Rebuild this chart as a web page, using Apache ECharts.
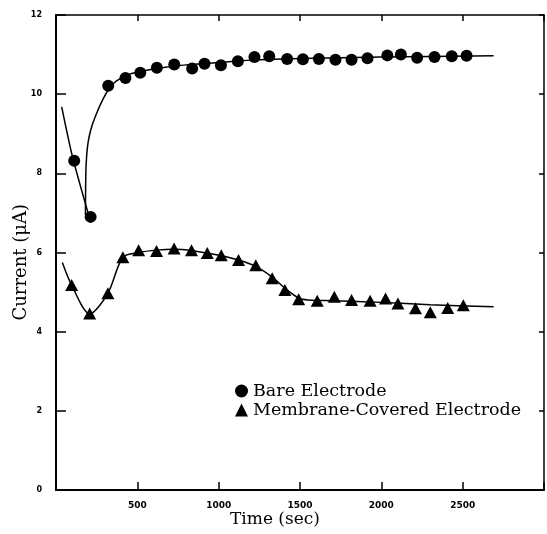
<!DOCTYPE html>
<html>
<head>
<meta charset="utf-8">
<script src="https://cdn.jsdelivr.net/npm/echarts@6/dist/echarts.min.js"></script>
<style>
  html, body { margin: 0; padding: 0; background: #fff; }
  #chart { width: 547px; height: 534px; }
</style>
</head>
<body>
<div id="chart"></div>
<script>
// measured points (time in sec, current in uA)
var bareTime = [112, 213, 321, 427, 518, 620, 727, 837, 913, 1014, 1118, 1220, 1311, 1421, 1518, 1616, 1718, 1817, 1915, 2037, 2120, 2220, 2327, 2433, 2524];
var bareCurrent = [8.32, 6.90, 10.21, 10.41, 10.54, 10.67, 10.75, 10.65, 10.77, 10.73, 10.83, 10.94, 10.96, 10.89, 10.88, 10.89, 10.87, 10.87, 10.91, 10.98, 11.0, 10.92, 10.94, 10.96, 10.97];

var memTime = [96, 207, 319, 411, 508, 618, 726, 833, 930, 1016, 1122, 1228, 1329, 1407, 1492, 1606, 1711, 1817, 1931, 2026, 2102, 2210, 2301, 2408, 2504];
var memCurrent = [5.18, 4.46, 4.97, 5.88, 6.06, 6.04, 6.10, 6.06, 5.99, 5.93, 5.81, 5.68, 5.35, 5.05, 4.82, 4.78, 4.88, 4.80, 4.78, 4.84, 4.71, 4.59, 4.49, 4.60, 4.67];

// fitted curves
var bareFallT = [35, 96, 146, 197];
var bareFallI = [9.68, 8.51, 7.74, 7.0];
var bareRiseT = [181, 182, 185, 193, 205, 225, 250, 280, 320, 370, 450, 550, 650, 800, 1000, 1200, 1500, 2000, 2690];
var bareRiseI = [6.95, 7.6, 8.2, 8.65, 8.95, 9.25, 9.52, 9.8, 10.1, 10.33, 10.5, 10.6, 10.67, 10.74, 10.8, 10.86, 10.9, 10.94, 10.97];

var memFitT = [39, 96, 207, 319, 411, 508, 620, 726, 833, 930, 1016, 1122, 1228, 1329, 1407, 1492, 1550, 1700, 2000, 2300, 2690];
var memFitI = [5.75, 5.18, 4.45, 4.97, 5.88, 6.0, 6.06, 6.08, 6.05, 5.98, 5.92, 5.81, 5.65, 5.38, 5.1, 4.85, 4.8, 4.78, 4.74, 4.68, 4.63];

var xTicks = [500, 1000, 1500, 2000, 2500];

function pairs(t, v) {
  return t.map(function (x, i) { return [x, v[i]]; });
}

var chart = echarts.init(document.getElementById('chart'));
var tickFamily = 'DejaVu Sans';
var serif = 'DejaVu Serif';

var option = {
  animation: false,
  backgroundColor: '#fff',
  grid: { left: 56, top: 15, right: 2, bottom: 44 },
  xAxis: [
    {
      type: 'value', min: 0, max: 3000, interval: 500,
      axisLine: { onZero: false, lineStyle: { color: '#000', width: 2 } },
      axisTick: { inside: true, length: 8, lineStyle: { color: '#000', width: 1.5 } },
      axisLabel: {
        margin: 11,
        fontFamily: tickFamily, fontWeight: 'bold', fontSize: 9, color: '#000',
        formatter: function (v) { return xTicks.indexOf(v) >= 0 ? String(v) : ''; }
      },
      splitLine: { show: false }
    },
    {
      type: 'value', min: 0, max: 3000, interval: 500, position: 'top',
      axisLine: { show: true, onZero: false, lineStyle: { color: '#000', width: 1.5 } },
      axisTick: { inside: true, length: 6, lineStyle: { color: '#000', width: 1.5 } },
      axisLabel: { show: false },
      splitLine: { show: false }
    }
  ],
  yAxis: [
    {
      type: 'value', min: 0, max: 12, interval: 2,
      axisLine: { show: true, onZero: false, lineStyle: { color: '#000', width: 2 } },
      axisTick: { show: true, inside: true, length: 10, lineStyle: { color: '#000', width: 1.5 } },
      axisLabel: {
        margin: 14,
        fontFamily: tickFamily, fontWeight: 'bold', fontSize: 8, color: '#000'
      },
      splitLine: { show: false }
    },
    {
      type: 'value', min: 0, max: 12, interval: 2, position: 'right',
      axisLine: { show: true, onZero: false, lineStyle: { color: '#000', width: 1.5 } },
      axisTick: { show: true, inside: true, length: 5, lineStyle: { color: '#000', width: 1.5 } },
      axisLabel: { show: false },
      splitLine: { show: false }
    }
  ],
  legend: {
    orient: 'vertical',
    left: 230, top: 377,
    itemWidth: 13, itemHeight: 13, itemGap: 1,
    textStyle: { fontFamily: serif, fontSize: 17.5, color: '#000' },
    data: [
      { name: 'Bare Electrode', icon: 'circle', itemStyle: { color: '#000', opacity: 1 } },
      { name: 'Membrane-Covered Electrode', icon: 'triangle', itemStyle: { color: '#000', opacity: 1 } }
    ]
  },
  graphic: [
    {
      type: 'text', left: 12, top: 204, rotation: Math.PI / 2,
      style: { text: 'Current (\u03bcA)', font: '18px "DejaVu Serif"', fill: '#000' }
    },
    {
      type: 'text', left: 230, top: 511,
      style: { text: 'Time (sec)', font: '17px "DejaVu Serif"', fill: '#000' }
    }
  ],
  series: [
    {
      name: 'bareFall', type: 'line', data: pairs(bareFallT, bareFallI),
      showSymbol: false, smooth: 0.3,
      lineStyle: { color: '#000', width: 1.5 }
    },
    {
      name: 'bareRise', type: 'line', data: pairs(bareRiseT, bareRiseI),
      showSymbol: false, smooth: 0.3,
      lineStyle: { color: '#000', width: 1.5 }
    },
    {
      name: 'memFit', type: 'line', data: pairs(memFitT, memFitI),
      showSymbol: false, smooth: 0.3,
      lineStyle: { color: '#000', width: 1.5 }
    },
    {
      name: 'Bare Electrode', type: 'scatter', data: pairs(bareTime, bareCurrent),
      symbol: 'circle', symbolSize: 12,
      itemStyle: { color: '#000', opacity: 1 }
    },
    {
      name: 'Membrane-Covered Electrode', type: 'scatter', data: pairs(memTime, memCurrent),
      symbol: 'triangle', symbolSize: [13, 12],
      itemStyle: { color: '#000', opacity: 1 }
    }
  ]
};
chart.setOption(option);
</script>
</body>
</html>
